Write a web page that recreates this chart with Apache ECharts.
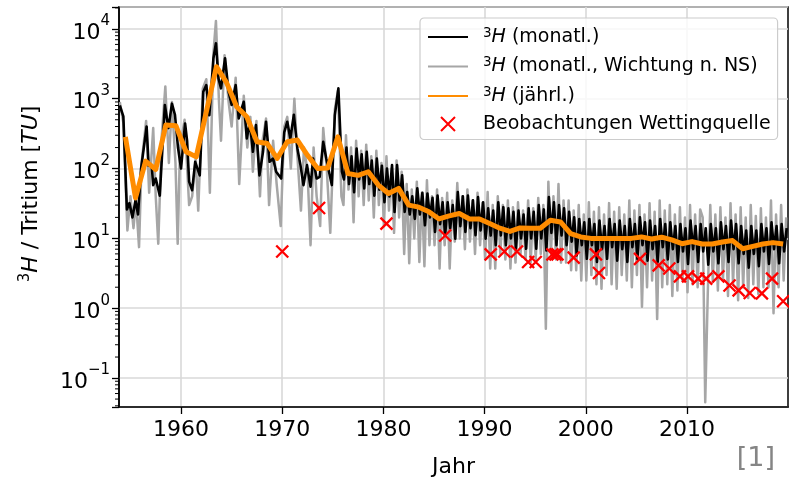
<!DOCTYPE html>
<html><head><meta charset="utf-8">
<script src="https://cdn.jsdelivr.net/npm/echarts@6.0.0/dist/echarts.min.js"></script>
<style>html,body{margin:0;padding:0;background:#fff}#c{width:789px;height:481px}</style>
</head><body><div id="c"></div>
<script>
// ---- data ----
// monthly 3H (black), early years: individual turning points [year]
const monthlyEarlyTimes = [1953.95,1954.3,1954.65,1954.9,1955.2,1955.5,1955.75,1956.05,1956.6,1956.8,1957.1,1957.25,1957.5,1957.9,1958.4,1958.75,1959.1,1959.4,1959.7,1960.0,1960.4,1960.6,1960.8,1961.1,1961.4,1961.85,1962.2,1962.5,1962.8,1963.2,1963.45,1963.7,1963.95,1964.35,1964.7,1965.0,1965.4,1965.7,1966.2,1966.5,1966.8,1967.1,1967.4,1967.75,1968.1,1968.4,1968.75,1969.1,1969.4,1969.9,1970.2,1970.5,1970.8,1971.15,1971.5,1971.8,1972.1,1972.45,1972.8,1973.05,1973.4,1973.7,1974.05,1974.35,1974.9,1975.2,1975.55,1975.9];
const monthlyEarlyValues = [800,560,26,32,20,35,22,100,400,110,112,58,72,41,815,380,850,590,200,100,443,250,65,49,125,80,1260,1570,580,3800,6240,1960,1410,3800,1260,813,1570,523,906,270,469,174,420,80,174,469,125,139,90,72,330,469,270,590,194,112,58,112,55,139,72,76,242,139,58,584,1410,90];
// monthly 3H (black), 1976-2019: four readings per year (quarters)
const monthlyLateYears = [1976,1977,1978,1979,1980,1981,1982,1983,1984,1985,1986,1987,1988,1989,1990,1991,1992,1993,1994,1995,1996,1997,1998,1999,2000,2001,2002,2003,2004,2005,2006,2007,2008,2009,2010,2011,2012,2013,2014,2015,2016,2017,2018,2019];
const monthlyLateValues = [
  70,200,60,150, 46,194,70,160, 52,174,60,130, 41,139,50,110, 33,100,40,112, 24,112,35,80,
  24,46,22,40, 19,52,22,45, 15.4,44,20,38, 12.4,41,16,33, 11.1,33,14,30, 9.9,46,15,40,
  12.4,41,14,35, 11.1,39,13,33, 9.9,27,11,25, 8.0,33,11,28, 8.0,27,10,24, 7.1,25,10,22,
  7.1,27,10,24, 7.1,30,10,26, 6.7,39,12,33, 8.0,30,11,27, 8.0,24,9,20, 5.7,19,8,17,
  5.1,19,8,16, 4.6,18,7,15, 5.1,19,7.5,16, 4.8,18,7,15, 4.6,19,7.5,16, 5.1,20,8,17,
  4.8,18,7,15, 4.6,19,7.5,16, 5.0,17,7,15, 4.6,16,6.5,14, 4.3,18,7,15, 4.6,16,6.5,14,
  4.2,16,6.5,14, 4.4,17,7,15, 4.6,18,7,16, 4.4,15,6,13, 3.8,15,6,13, 4.0,16,6.5,14,
  4.3,17,7,15, 4.4,16,6.5,14];

// monthly 3H weighted by precipitation (grey)
const weightedEarlyTimes = [1953.95,1954.3,1954.7,1955.0,1955.3,1955.55,1955.85,1956.1,1956.55,1956.85,1957.25,1957.5,1957.75,1958.1,1958.45,1958.8,1959.1,1959.45,1959.67,1959.9,1960.35,1960.8,1961.1,1961.45,1961.7,1962.15,1962.5,1962.85,1963.2,1963.45,1963.75,1963.95,1964.3,1964.7,1965.0,1965.4,1965.75,1966.2,1966.55,1966.85,1967.1,1967.45,1967.8,1968.05,1968.4,1968.7,1969.1,1969.45,1969.85,1970.2,1970.5,1970.85,1971.2,1971.5,1971.85,1972.15,1972.5,1972.8,1973.1,1973.4,1973.75,1974.05,1974.4,1974.75,1975.2,1975.5,1975.85];
const weightedEarlyValues = [900,450,13,40,14,35,7.5,120,480,45,380,40,8.4,300,1500,120,900,120,8.4,200,500,30,40,140,25,1400,1900,45,4500,13000,900,250,4200,900,400,2000,60,1100,200,550,90,480,40,250,520,30,250,60,15,400,550,100,1000,150,25,200,90,8,200,40,15,380,100,12,700,1300,40];
const weightedLateYears = monthlyLateYears;
const weightedLateValues = [
  30,300,50,200, 17,250,40,180, 30,220,35,150, 20,180,30,120, 15,150,25,100, 12,130,20,90,
  6,60,4.4,50, 10,65,4.6,45, 4.0,68,8,40, 8,50,3.7,38, 8,45,3.7,35, 9,62,10,40,
  7,50,9,35, 6,45,8,32, 5,46,3.7,30, 3.7,40,6,30, 5,35,3.7,28, 4.5,33,6,25,
  5,35,4.5,27, 5,38,6,30, 0.51,65,6,40, 5,60,4.5,35, 4.5,35,3.5,25, 3.5,30,2.5,22,
  2.5,33,3,24, 2.2,28,1.9,22, 3,32,2.2,24, 1.9,28,3,22, 2.5,35,2.0,25, 3,30,1.05,22,
  2.0,32,2.5,24, 0.7,35,2.0,25, 2.2,30,1.5,22, 1.8,28,2.5,20, 1.7,30,2.2,22, 2.0,26,20,0.045,
  1.6,30,2.4,22, 1.8,28,2.5,20, 1.5,32,2.2,22, 1.3,28,2.0,20, 1.4,30,2.2,21, 1.6,27,2.0,20,
  2.0,35,0.85,22, 2.0,30,2.5,20];

// yearly 3H (orange), one value per year
const annualYears = [1954,1955,1956,1957,1958,1959,1960,1961,1962,1963,1964,1965,1966,1967,1968,1969,1970,1971,1972,1973,1974,1975,1976,1977,1978,1979,1980,1981,1982,1983,1984,1985,1986,1987,1988,1989,1990,1991,1992,1993,1994,1995,1996,1997,1998,1999,2000,2001,2002,2003,2004,2005,2006,2007,2008,2009,2010,2011,2012,2013,2014,2015,2016,2017,2018,2019];
const annualValues = [285,38,128,97,420,410,174,147,650,2880,1700,767,552,242,229,140,242,256,155,100,102,285,85,80,90,58,44,52,30,28,24,19,21,22.7,19,19,16.3,14,12.6,14.1,14,14,18.2,17.2,11.7,10.5,10,10,10,10,10,10.5,9.8,10.4,9.5,8.4,9.0,8.3,8.3,8.9,9.3,7.1,7.7,8.3,8.7,8.3];

// observations Wettingquelle (red x)
const obsYears = [1970.0,1973.64,1980.3,1986.1,1990.6,1991.95,1993.2,1994.3,1995.05,1996.7,1997.0,1997.2,1998.8,2001.0,2001.3,2005.35,2007.2,2008.25,2009.3,2010.1,2011.1,2011.9,2013.1,2014.2,2015.1,2016.2,2017.4,2018.4,2019.5];
const obsValues = [6.5,27.3,16.3,11,5.9,6.5,6.5,4.6,4.6,5.9,5.9,5.9,5.3,5.9,3.2,5.1,4.1,3.7,2.86,2.86,2.65,2.65,2.86,2.12,1.8,1.65,1.63,2.65,1.26];

const xTicks = [1960,1970,1980,1990,2000,2010];
const X_MIN = 1953.87, X_MAX = 2019.98;
const Y_MIN = 0.0385, Y_MAX = 20600;
const QUARTER_OFFSETS_BLACK = [0.1, 0.35, 0.6, 0.85];
const QUARTER_OFFSETS_GREY = [0.05, 0.3, 0.55, 0.8];

// ---- chart ----
const FONT = 'DejaVu Sans';
const zip = (a, b) => a.map((v, i) => [v, b[i]]);
const quarterly = (years, vals, offs) => {
  const out = [];
  years.forEach((y, i) => offs.forEach((o, k) => out.push([y + o, vals[i * 4 + k]])));
  return out;
};
const blackData = zip(monthlyEarlyTimes, monthlyEarlyValues).concat(quarterly(monthlyLateYears, monthlyLateValues, QUARTER_OFFSETS_BLACK));
const greyData = zip(weightedEarlyTimes, weightedEarlyValues).concat(quarterly(weightedLateYears, weightedLateValues, QUARTER_OFFSETS_GREY));

const minorVals = [];
for (let e = -2; e <= 4; e++) for (let m = 2; m <= 9; m++) {
  const v = m * Math.pow(10, e);
  if (v > Y_MIN && v < Y_MAX) minorVals.push(v);
}
const LEG = {
  mon: '{s|3}{i|H}{n| (monatl.)}',
  monNS: '{s|3}{i|H}{n| (monatl., Wichtung n. NS)}',
  annual: '{s|3}{i|H}{n| (jährl.)}',
  obs: '{n|Beobachtungen Wettingquelle}'
};
const isPow10 = v => Math.abs(Math.log10(v) - Math.round(Math.log10(v))) < 1e-6;
const hideSym = {opacity: 0};

const chart = echarts.init(document.getElementById('c'), null, {renderer: 'canvas'});
chart.setOption({
  animation: false,
  backgroundColor: '#fff',
  grid: {left: 119, right: 1, top: 7, bottom: 74, containLabel: false, outerBoundsMode: 'none',
    show: true, borderColor: '#000', borderWidth: 1.5, backgroundColor: 'transparent'},
  xAxis: {
    type: 'value', min: X_MIN, max: X_MAX, splitNumber: 6,
    name: 'Jahr', nameLocation: 'middle', nameGap: 49,
    nameTextStyle: {fontFamily: FONT, fontSize: 22, color: '#000'},
    axisLine: {show: true, lineStyle: {color: '#000', width: 1.5}},
    axisTick: {show: true, length: 7, customValues: xTicks, lineStyle: {color: '#000', width: 1.3}},
    axisLabel: {customValues: xTicks, margin: 12, fontFamily: FONT, fontSize: 22, color: '#000',
      formatter: v => (Math.abs(v % 10) < 1e-9 ? String(Math.round(v)) : '')},
    splitLine: {show: true, lineStyle: {color: '#d9d9d9', width: 1.6}}
  },
  yAxis: {
    type: 'log', logBase: 10, min: Y_MIN, max: Y_MAX,
    name: '{s|3}{i|H}{n| / Tritium [}{i|TU}{n|]}', nameLocation: 'middle', nameGap: 75, nameRotate: 90,
    nameTextStyle: {fontFamily: FONT, fontSize: 22, color: '#000', padding: [0, 0, 0, 26], rich: {
      n: {fontFamily: FONT, fontSize: 22, color: '#000', lineHeight: 26},
      i: {fontFamily: FONT, fontSize: 22, fontStyle: 'italic', color: '#000', lineHeight: 26},
      s: {fontFamily: FONT, fontSize: 15, color: '#000', lineHeight: 14, verticalAlign: 'top'}
    }},
    axisLine: {show: true, lineStyle: {color: '#000', width: 1.5}},
    axisTick: {show: true, length: 7, lineStyle: {color: '#000', width: 1.3}},
    axisLabel: {margin: 9, fontFamily: FONT, color: '#000',
      formatter: v => {
        if (!isPow10(v)) return '';
        const e = Math.round(Math.log10(v));
        return '{b|10}{s|' + (e < 0 ? '\u2212' + (-e) : e) + '}';
      },
      rich: {
        b: {fontFamily: FONT, fontSize: 22, color: '#000', lineHeight: 30, verticalAlign: 'bottom'},
        s: {fontFamily: FONT, fontSize: 15, color: '#000', lineHeight: 12, verticalAlign: 'top'}
      }
    },
    splitLine: {show: true, lineStyle: {color: '#d9d9d9', width: 1.6}}
  },
  legend: {
    orient: 'vertical', left: 420, top: 18, z: 10,
    data: [{name: 'mon', itemStyle: hideSym}, {name: 'monNS', itemStyle: hideSym}, {name: 'annual', itemStyle: hideSym}, {name: 'obs'}],
    formatter: name => LEG[name],
    itemWidth: 40, itemHeight: 14, itemGap: 9,
    padding: [8, 7, 6, 7],
    backgroundColor: 'rgba(255,255,255,0.8)', borderColor: '#cccccc', borderWidth: 1.2, borderRadius: 4,
    textStyle: {fontFamily: FONT, fontSize: 19, color: '#000', padding: [0, 0, 0, 10],
      rich: {
        n: {fontFamily: FONT, fontSize: 19, color: '#000', lineHeight: 22},
        i: {fontFamily: FONT, fontSize: 19, fontStyle: 'italic', color: '#000', lineHeight: 22},
        s: {fontFamily: FONT, fontSize: 13.5, color: '#000', lineHeight: 11, verticalAlign: 'top'}
      }
    }
  },
  series: [
    {name: 'monNS', type: 'line', z: 2, data: greyData, showSymbol: false, symbol: 'none',
      lineStyle: {color: '#a6a6a6', width: 2.5, join: 'round'}, itemStyle: {color: '#a6a6a6'}},
    {name: 'mon', type: 'line', z: 3, data: blackData, showSymbol: false, symbol: 'none',
      lineStyle: {color: '#000', width: 2.6, join: 'round'}, itemStyle: {color: '#000'}},
    {name: 'annual', type: 'line', z: 4, data: zip(annualYears.map(y => y + 0.5), annualValues), showSymbol: false, symbol: 'none',
      lineStyle: {color: '#ff8c00', width: 5, join: 'round'}, itemStyle: {color: '#ff8c00'}},
    {name: 'obs', type: 'scatter', z: 6, data: zip(obsYears, obsValues),
      symbol: 'path://M0,0L10,10M10,0L0,10', symbolSize: 12,
      itemStyle: {color: 'rgba(0,0,0,0)', borderColor: '#ff0000', borderWidth: 2.3, opacity: 1}},
    {name: 'minor', type: 'custom', silent: true, clip: false, z: 6,
      data: minorVals.map(v => [X_MIN, v]),
      renderItem: (params, api) => {
        const p = api.coord([api.value(0), api.value(1)]);
        return {type: 'line', shape: {x1: p[0] - 4, y1: p[1], x2: p[0], y2: p[1]}, style: {stroke: '#000', lineWidth: 1}};
      }}
  ],
  graphic: [{type: 'text', right: 14, top: 445, style: {text: '[1]', fontFamily: FONT, fontSize: 27, fill: '#858585'}}]
});
</script></body></html>
